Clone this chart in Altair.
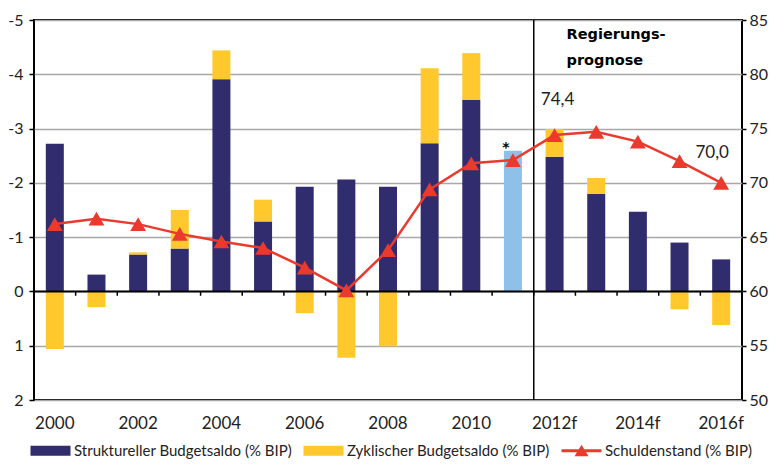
import altair as alt
import pandas as pd

# ---------------- data ----------------
years = ["2000", "2001", "2002", "2003", "2004", "2005", "2006", "2007", "2008",
         "2009", "2010", "2011", "2012f", "2013f", "2014f", "2015f", "2016f"]
axis_years = ["2000", "2002", "2004", "2006", "2008", "2010", "2012f", "2014f", "2016f"]

structural = [-2.72, -0.31, -0.68, -0.79, -3.91, -1.29, -1.93, -2.06, -1.93,
              -2.73, -3.53, None, -2.48, -1.80, -1.47, -0.90, -0.59]
cyclical = [1.06, 0.29, -0.04, -0.71, -0.53, -0.40, 0.40, 1.22, 1.01,
            -1.38, -0.86, None, -0.51, -0.29, 0.0, 0.33, 0.62]
total_only = [None, None, None, None, None, None, None, None, None,
              None, None, -2.59, None, None, None, None, None]
debt = [66.2, 66.7, 66.2, 65.3, 64.6, 64.0, 62.2, 60.1, 63.8,
        69.4, 71.8, 72.1, 74.4, 74.7, 73.8, 72.0, 70.0]

legend_series = ["Struktureller Budgetsaldo (% BIP)",
                 "Zyklischer Budgetsaldo (% BIP)",
                 "Schuldenstand (% BIP)"]
left_ticks = [-5, -4, -3, -2, -1, 0, 1, 2]
right_ticks = [50, 55, 60, 65, 70, 75, 80, 85]
annot_title = "Regierungs-\nprognose"

# ---------------- styles ----------------
NAVY = "#312c6e"
YELLOW = "#ffc82c"
LIGHTBLUE = "#8fc0e7"
RED = "#ea3a2e"
FONT = "Lato"

# ---------------- tables ----------------
rows = []
for y, s, c, t, d in zip(years, structural, cyclical, total_only, debt):
    if s is not None:
        base = s if (c is not None and c * s > 0) else 0.0
        rows.append(dict(year=y, s_lo=0.0, s_hi=s, c_lo=base, c_hi=base + c, debt=d))
    else:
        rows.append(dict(year=y, s_lo=None, s_hi=None, c_lo=None, c_hi=None, debt=d))
df = pd.DataFrame(rows)
df_bars = df.dropna(subset=["s_hi"])
df_total = pd.DataFrame([dict(year=y, lo=0.0, hi=t) for y, t in zip(years, total_only) if t is not None])
df_bounds = pd.DataFrame({"year": years[1:]})
df_sep = pd.DataFrame({"year": ["2012f"]})
df_lab = pd.DataFrame([dict(year=y, debt=d, lab=f"{d:.1f}".replace(".", ","))
                       for y, d in zip(years, debt)])
df_leg = pd.DataFrame({"series": legend_series})

xscale = alt.Scale(domain=years, paddingInner=0, paddingOuter=0)
lscale = alt.Scale(domain=[-5, 2], reverse=True, nice=False, zero=False)
rscale = alt.Scale(domain=[50, 85], nice=False, zero=False)

x_main = alt.X("year:N", scale=xscale, sort=years, title=None,
               axis=alt.Axis(values=axis_years, domain=False, ticks=False, tickSize=0,
                             labelPadding=15, labelAngle=0, labelFontSize=17,
                             labelFont=FONT, labelColor="#222", grid=False))
x_plain = alt.X("year:N", sort=years, title=None)
x_edge = alt.X("year:N", sort=years, title=None, bandPosition=0)

left_axis = alt.Axis(values=left_ticks, title=None, grid=True, gridColor="#a8a8a8",
                     gridWidth=1.5, domain=False, tickColor="black", tickSize=5,
                     tickWidth=1.5, labelPadding=6, labelFontSize=16, labelFont=FONT,
                     labelColor="#222", labelExpr="toString(datum.value)")
right_axis = alt.Axis(values=right_ticks, title=None, grid=False, orient="right",
                      domain=False, tickColor="black", tickSize=4, tickWidth=1.5,
                      labelPadding=3, labelFontSize=16, labelFont=FONT, labelColor="#222")

# ---------------- left group ----------------
struct_bars = alt.Chart(df_bars).mark_bar(size=18, color=NAVY).encode(
    x=x_main,
    y=alt.Y("s_lo:Q", scale=lscale, axis=left_axis, title=None),
    y2="s_hi:Q",
)
cyc_bars = alt.Chart(df_bars).mark_bar(size=18, color=YELLOW).encode(
    x=x_plain,
    y=alt.Y("c_lo:Q", title=None),
    y2="c_hi:Q",
)
total_bar = alt.Chart(df_total).mark_bar(size=18, color=LIGHTBLUE).encode(
    x=x_plain,
    y=alt.Y("lo:Q", title=None),
    y2="hi:Q",
)
zero_line = alt.Chart(df_sep).mark_rule(color="black", strokeWidth=2).encode(
    y=alt.YDatum(datum=0),
)
cat_ticks = alt.Chart(df_bounds).mark_rule(color="black", strokeWidth=1.5).encode(
    x=x_edge,
    y=alt.YDatum(datum=0),
    y2=alt.Y2Datum(datum=0.08),
)
sep_line = alt.Chart(df_sep).mark_rule(color="black", strokeWidth=1.5).encode(
    x=x_edge,
)
star = alt.Chart(df_total).mark_text(text="*", font="DejaVu Sans", fontWeight="bold",
                                     fontSize=14, baseline="alphabetic", align="center",
                                     dx=-7, dy=1, color="black").encode(
    x=x_plain,
    y=alt.Y("hi:Q", title=None),
)
prog_text = alt.Chart(df_sep).mark_text(text=annot_title, lineBreak="\n", lineHeight=26,
                                        font="DejaVu Sans", fontWeight="bold", fontSize=14.5,
                                        align="left", baseline="alphabetic",
                                        dx=12, dy=19, color="black").encode(
    x=x_plain,
    y=alt.YDatum(datum=-5),
)
leg = alt.Legend(title=None, orient="none", legendX=-6, legendY=423, direction="horizontal",
                 symbolSize=100, symbolStrokeWidth=0, symbolOpacity=1, labelOffset=31,
                 columnPadding=9, padding=0, labelFont=FONT, labelLimit=0,
                 labelFontSize=15, labelColor="#222")
rect_path = "M-1,-1H7V1H-1Z"
line_path = "M-1,-0.3H7V0.3H-1Z M1.6,1.1L3,-1.2L4.4,1.1Z"
legend_layer = alt.Chart(df_leg).mark_point(filled=True).encode(
    fill=alt.Fill("series:N", scale=alt.Scale(domain=legend_series, range=[NAVY, YELLOW, RED]),
                  legend=leg),
    shape=alt.Shape("series:N", scale=alt.Scale(domain=legend_series,
                                                range=[rect_path, rect_path, line_path]),
                    legend=leg),
    opacity=alt.value(0),
)

left_group = alt.layer(struct_bars, cyc_bars, total_bar, zero_line, cat_ticks, sep_line,
                       star, prog_text, legend_layer)

# ---------------- right group ----------------
debt_line = alt.Chart(df).mark_line(color=RED, strokeWidth=2.5).encode(
    x=x_plain,
    y=alt.Y("debt:Q", scale=rscale, axis=right_axis, title=None),
)
debt_pts = alt.Chart(df).mark_point(shape="triangle-up", filled=True, size=250,
                                    color=RED, opacity=1).encode(
    x=x_plain,
    y=alt.Y("debt:Q", title=None),
)
lab_a = alt.Chart(df_lab[df_lab.year == "2012f"]).mark_text(
    font=FONT, fontSize=17, color="#222", dx=3, dy=-35).encode(
    x=x_plain, y=alt.Y("debt:Q", title=None), text="lab:N")
lab_b = alt.Chart(df_lab[df_lab.year == "2016f"]).mark_text(
    font=FONT, fontSize=17, color="#222", dx=-9, dy=-30).encode(
    x=x_plain, y=alt.Y("debt:Q", title=None), text="lab:N")

right_group = alt.layer(debt_line, debt_pts, lab_a, lab_b)

chart = alt.layer(left_group, right_group).resolve_scale(y="independent").properties(
    width=708, height=380,
    autosize=alt.AutoSizeParams(type="none"),
    padding={"left": 26, "top": 12, "right": 26, "bottom": 60},
).configure(font=FONT).configure_view(stroke="black", strokeWidth=2)

chart.save("out.html", embed_options={"renderer": "svg", "actions": False})
